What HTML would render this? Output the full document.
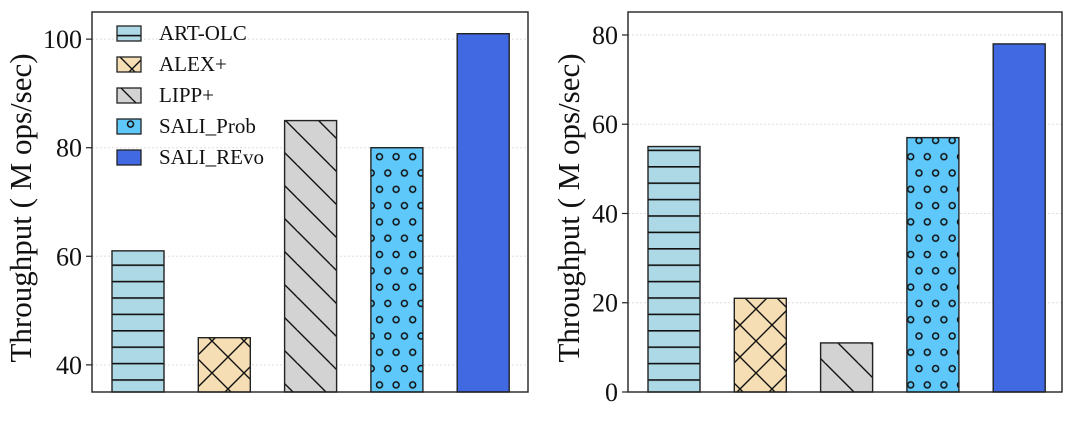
<!DOCTYPE html>
<html><head><meta charset="utf-8"><style>
html,body{margin:0;padding:0;background:#fff;}
svg{display:block;font-family:"Liberation Serif",serif;}
</style></head><body>
<svg id="chart" width="1080" height="427" viewBox="0 0 1080 427">
<defs>
<pattern id="p-hline" patternUnits="userSpaceOnUse" width="16" height="16.4" y="2"><rect width="16" height="16.4" fill="#ADD8E6"/><line x1="0" y1="0.8" x2="16" y2="0.8" stroke="#111" stroke-width="1.6"/></pattern>
<pattern id="p-cross" patternUnits="userSpaceOnUse" width="32" height="32" x="4" y="5"><rect width="32" height="32" fill="#F5DEB3"/><path d="M0 0L32 32M32 0L0 32M-16 16L0 32M16 -16L48 16M-16 16L16-16M16 48L48 16" stroke="#111" stroke-width="1.4" fill="none"/></pattern>
<pattern id="p-diag" patternUnits="userSpaceOnUse" width="33" height="33"><rect width="33" height="33" fill="#D3D3D3"/><path d="M0 0L33 33M-33 0L0 33M33 0L66 33M0 -33L33 0" stroke="#111" stroke-width="1.4"/></pattern>
<pattern id="p-dot" patternUnits="userSpaceOnUse" width="16.6" height="32.6" x="2" y="6"><rect width="16.6" height="32.6" fill="#5EC8FA"/><circle cx="4" cy="4" r="3" fill="none" stroke="#111" stroke-width="1.5"/><circle cx="12.3" cy="20.3" r="3" fill="none" stroke="#111" stroke-width="1.5"/></pattern>
</defs>
<g id="plots"></g>
</svg>
<script>
const categories = ["ART-OLC","ALEX+","LIPP+","SALI_Prob","SALI_REvo"];
const leftValues = [61,45,85,80,101];
const rightValues = [55,21,11,57,78];
const leftTicks = [40,60,80,100];
const rightTicks = [0,20,40,60,80];
const fills = ["url(#p-hline)","url(#p-cross)","url(#p-diag)","url(#p-dot)","#4169E1"];
const NS="http://www.w3.org/2000/svg";
const root=document.getElementById('plots');
function mk(tag,attrs,parent){const e=document.createElementNS(NS,tag);for(const k in attrs)e.setAttribute(k,attrs[k]);(parent||root).appendChild(e);return e;}
function panel(id,x0,x1,dmin,dmax,values,ticks,titleX){
  const top=12,bot=392;
  const g=mk('g',{});
  
  
  const y=v=>bot-(v-dmin)/(dmax-dmin)*(bot-top);
  const step=86.3;
  ticks.forEach(t=>{
    const gl=mk('line',{x1:x0,x2:x1,y1:y(t),y2:y(t),stroke:'#ddd','stroke-width':1,'stroke-dasharray':'2,2'},g);
    
    
    const tk=mk('line',{x1:x0-6,x2:x0,y1:y(t),y2:y(t),stroke:'#222','stroke-width':1.2},g);
    
    
    const tl=mk('text',{x:x0-10,y:y(t)+9,'text-anchor':'end','font-size':26,fill:'#111'},g);
    tl.textContent=t;
    
    
  });
  values.forEach((v,i)=>{
    const bw=52, cx=x0+46+step*i;
    const b=mk('rect',{x:cx-bw/2,y:y(v),width:bw,height:bot-y(v),fill:fills[i],stroke:'#222','stroke-width':1.4},g);
    
    
  });
  const fr=mk('rect',{x:x0,y:top,width:x1-x0,height:bot-top,fill:'none',stroke:'#222','stroke-width':1.4},g);
  
  
  const yt=mk('text',{x:0,y:0,transform:`translate(${titleX},${(top+bot)/2+6}) rotate(-90)`,'text-anchor':'middle','font-size':31,fill:'#111'},g);
  yt.textContent='Throughput ( M ops/sec)';
  
  
  return g;
}
panel('left-chart',92,528,35,105,leftValues,leftTicks,31);
panel('right-chart',628,1062,0,85.15,rightValues,rightTicks,579);
const lg=mk('g',{});


categories.forEach((c,i)=>{
  const yy=26+i*31;
  const sw=mk('rect',{x:117,y:yy,width:24,height:15,fill:fills[i],stroke:'#222','stroke-width':1.3},lg);
  
  
  const t=mk('text',{x:159,y:yy+14,'font-size':21,fill:'#111'},lg);
  t.textContent=c;
  
  
});
</script>
</body></html>
